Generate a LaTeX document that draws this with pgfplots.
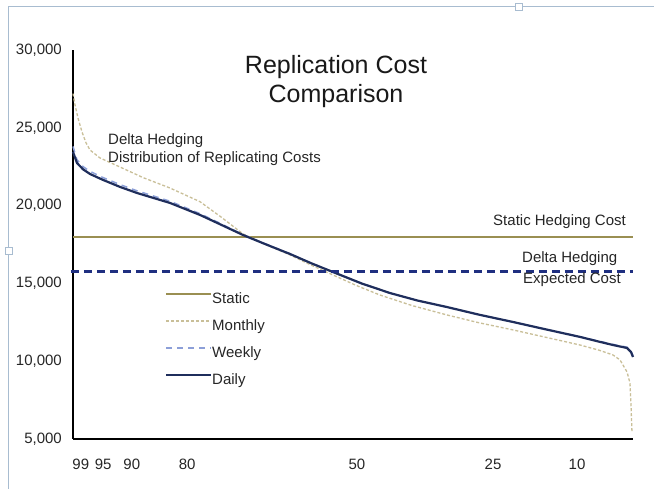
\documentclass[border=0pt]{standalone}
\usepackage{pgfplots}
\pgfplotsset{compat=1.18}
\usepackage{fontspec}
\setmainfont{Liberation Sans}
\definecolor{staticc}{HTML}{9A8F52}
\definecolor{monthc}{HTML}{C9BF98}
\definecolor{weekc}{HTML}{8C9FD8}
\definecolor{dailyc}{HTML}{1F2E5C}
\definecolor{expc}{HTML}{1F2F80}
\definecolor{framec}{HTML}{A8BCD0}
\begin{document}
\begin{tikzpicture}[x=1bp,y=1bp]
\useasboundingbox (0,0) rectangle (654,489);
\fill[white] (0,0) rectangle (654,489);
\draw[framec, line width=1bp] (8.5,0) -- (8.5,482.5) -- (654,482.5);
\draw[framec, fill=white, line width=0.8bp] (515,479) rectangle (522,486);
\draw[framec, fill=white, line width=0.8bp] (5,235) rectangle (12,242);
\begin{axis}[
  at={(73bp,50bp)}, anchor=south west, scale only axis,
  width=560bp, height=389bp,
  xmin=0, xmax=100, ymin=5000, ymax=30000,
  axis x line*=bottom, axis y line*=left,
  axis line style={line width=1.8bp, black},
  xtick={1.4,5.4,10.5,20.4,50.7,75,90},
  xticklabels={99,95,90,80,50,25,10},
  ytick={5000,10000,15000,20000,25000,30000},
  major tick length=0pt,
  scaled y ticks=false,
  /pgf/number format/assume math mode=true,
  y tick label style={/pgf/number format/1000 sep={,}},
  tick label style={font=\fontsize{15bp}{18bp}\selectfont, text=black!85},
  yticklabel style={inner sep=0pt, xshift=-11bp},
  xticklabel style={inner sep=0pt, yshift=-20bp},
  clip=false,
  legend style={at={(0.164,0.378)}, anchor=north west, draw=none, fill=none,
    inner sep=0pt, row sep=13bp, font=\fontsize{15bp}{18bp}\selectfont,
    nodes={inner sep=0pt, text height=11bp, text depth=3bp, text=black!85}},
  legend cell align=left,
  legend image code/.code={\draw[#1] (0bp,5bp) -- (45bp,5bp);},
]
\addplot[staticc, line width=2bp] coordinates {(0,18000) (100,18000)};
\addlegendentry{Static}
\addplot[monthc, line width=1.3bp, dash pattern=on 3bp off 2bp] coordinates {
(0,27200) (0.36,26470) (0.89,25630) (1.61,24730) (2.3,24050) (3.04,23570) (4.82,23060)
(8.39,22480) (12.5,21800) (17.32,21130) (22.68,20250) (26.5,19250) (30.36,18180)
(34.5,17480) (38.75,16830) (42.5,16180) (46.43,15540) (50.5,14880) (54.82,14250)
(60.5,13580) (66.79,12970) (72.5,12470) (78.57,12010) (84.5,11530) (90.54,11040)
(94,10700) (96.43,10400) (97.68,10080) (98.93,9310) (99.46,8600) (99.64,7190) (99.82,5390)};
\addlegendentry{Monthly}
\addplot[weekc, line width=1.5bp, dash pattern=on 6bp off 5bp] coordinates {
(0,23800) (0.7,22950) (1.8,22500) (3.04,22200) (5.36,21800) (8.4,21350) (11.43,20950)
(17.32,20280) (22.68,19480) (26.5,18820) (30.36,18130) (34.5,17520) (38.75,16900)
(42.5,16310) (46.43,15730) (51.5,15010) (56.61,14370) (61.5,13900) (66.79,13470)
(72.5,12980) (78.57,12520) (84.5,12040) (90.54,11570) (94,11280) (96.43,11080)
(98.93,10900) (99.64,10650) (100,10350)};
\addlegendentry{Weekly}
\addplot[dailyc, line width=2.2bp] coordinates {
(0,23450) (0.71,22740) (1.8,22330) (3.04,22030) (5.36,21650) (8.4,21200) (11.43,20810)
(17.32,20170) (22.68,19400) (26.5,18760) (30.36,18110) (34.5,17500) (38.75,16890)
(42.5,16300) (46.43,15730) (51.5,15000) (56.61,14380) (61.5,13900) (66.79,13480)
(72.5,12990) (78.57,12520) (84.5,12040) (90.54,11560) (94,11250) (96.43,11040)
(98.93,10850) (99.64,10590) (100,10270)};
\addlegendentry{Daily}
\addplot[expc, line width=2.6bp, dash pattern=on 8bp off 5bp, forget plot] coordinates {(-0.4,15750) (100,15750)};
\end{axis}
\node[align=center, font=\fontsize{25bp}{29bp}\selectfont, text=black!90] at (336,407) {Replication Cost\\Comparison};
\node[anchor=north west, align=left, inner sep=0pt, font=\fontsize{15bp}{18bp}\selectfont, text=black!85] at (108,356) {Delta Hedging\\Distribution of Replicating Costs};
\node[anchor=east, inner sep=0pt, font=\fontsize{15bp}{18bp}\selectfont, text=black!85] at (626,267) {Static Hedging Cost};
\node[anchor=west, inner sep=0pt, font=\fontsize{15bp}{18bp}\selectfont, text=black!85] at (522,230) {Delta Hedging};
\node[anchor=west, inner sep=0pt, font=\fontsize{15bp}{18bp}\selectfont, text=black!85] at (523,209) {Expected Cost};
\end{tikzpicture}
\end{document}
